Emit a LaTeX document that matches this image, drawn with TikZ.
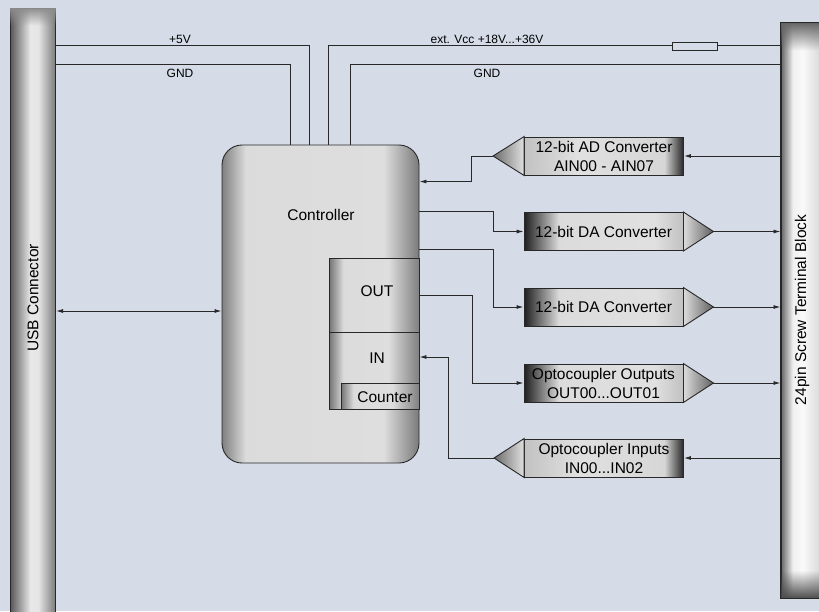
\documentclass[tikz,border=0pt]{standalone}
\usepackage{fontspec}
\setmainfont{Liberation Sans}
\usepackage{xcolor}
\usepackage{tikz}
\usetikzlibrary{arrows.meta,positioning,fadings}

\definecolor{bgblue}{RGB}{213,220,232}
\definecolor{wirecol}{RGB}{40,40,40}

% horizontal shadings (the path is mapped onto 25bp..75bp)
\pgfdeclarehorizontalshading{usbshade}{100bp}{color(0bp)=(black!65); color(25bp)=(black!65); color(47bp)=(black!9); color(56bp)=(black!10); color(75bp)=(black!52); color(100bp)=(black!52)}
\pgfdeclarehorizontalshading{screwshade}{100bp}{color(0bp)=(black!60); color(25bp)=(black!60); color(37bp)=(black!6); color(47bp)=(black!2); color(75bp)=(black!22); color(100bp)=(black!22)}
\pgfdeclarehorizontalshading{ctrlshade}{100bp}{color(0bp)=(black!50); color(25bp)=(black!50); color(31bp)=(black!14); color(66bp)=(black!13); color(75bp)=(black!52); color(100bp)=(black!52)}
\pgfdeclarehorizontalshading{subshade}{100bp}{color(0bp)=(black!55); color(25bp)=(black!55); color(33bp)=(black!14); color(58bp)=(black!13); color(75bp)=(black!50); color(100bp)=(black!50)}
\pgfdeclarehorizontalshading{darkleft}{100bp}{color(0bp)=(black!88); color(25bp)=(black!88); color(36bp)=(black!14); color(66bp)=(black!12); color(75bp)=(black!24); color(100bp)=(black!24)}
\pgfdeclarehorizontalshading{darkright}{100bp}{color(0bp)=(black!24); color(25bp)=(black!24); color(42bp)=(black!12); color(69bp)=(black!16); color(75bp)=(black!85); color(100bp)=(black!85)}

\tikzfading[name=capdown, top color=transparent!0, bottom color=transparent!100]
\tikzfading[name=capup, top color=transparent!100, bottom color=transparent!0]

\begin{document}
\begin{tikzpicture}[
  x=1pt, y=-1pt,
  font=\fontsize{15.5}{19}\selectfont,
  >=Latex,
  wire/.style={
    draw=wirecol,
    line width=0.9pt
  },
  flow/.style={
    wire,
    -{Latex[length=7pt,width=4pt]}
  },
  both/.style={
    wire,
    {Latex[length=7pt,width=4pt]}-{Latex[length=7pt,width=4pt]}
  },
  bar/.style={
    draw=wirecol,
    line width=1pt,
    shade,
    shading=#1,
    inner sep=0pt
  },
  ctrlbox/.style={
    draw=wirecol,
    line width=0.9pt,
    rounded corners=20pt,
    shade,
    shading=ctrlshade,
    minimum width=197pt,
    minimum height=318pt
  },
  subbox/.style={
    draw=wirecol,
    line width=0.9pt,
    shade,
    shading=subshade,
    inner sep=0pt
  },
  conv/.style={
    draw=wirecol,
    line width=0.9pt,
    shade,
    shading=#1,
    minimum width=159pt,
    minimum height=38pt,
    inner sep=0pt,
    align=center
  },
  triL/.style={
    draw=wirecol,
    line width=0.9pt,
    left color=black!58,
    right color=black!12
  },
  triR/.style={
    draw=wirecol,
    line width=0.9pt,
    left color=black!14,
    right color=black!62
  },
  lbl/.style={
    font=\fontsize{12}{14}\selectfont
  },
  fuse/.style={
    draw=wirecol,
    line width=0.9pt,
    fill=bgblue,
    minimum width=45pt,
    minimum height=8pt,
    inner sep=0pt
  }
]

\useasboundingbox (0,0) rectangle (819,611);
\clip (0,0) rectangle (819,611);
\fill[bgblue] (0,0) rectangle (819,611);

%-----------------------------
% Connector bars
%-----------------------------
\node[bar=usbshade, minimum width=45pt, minimum height=612pt] (usb) at (33,314) {};
\fill[black!45, path fading=capdown] (usb.north west) rectangle ([yshift=-18pt]usb.north east);
\node[rotate=90] (usbtxt) at (33,298) {USB Connector};

\node[bar=screwshade, minimum width=49pt, minimum height=575pt] (screw) at (805.5,310.5) {};
\fill[black!60, path fading=capdown] (screw.north west) rectangle ([yshift=-28pt]screw.north east);
\fill[black!70, path fading=capup] ([yshift=28pt]screw.south west) rectangle (screw.south east);
\draw[wire, line width=1pt] (screw.north east) -- (screw.north west) -- (screw.south west) -- (screw.south east);
\node[rotate=90] (screwtxt) at (802,310) {24pin Screw Terminal Block};

%-----------------------------
% Controller
%-----------------------------
\node[ctrlbox] (ctrl) at (320.5,304) {};
\node (ctrltxt) at (321,215) {Controller};

\node[subbox, minimum width=90pt, minimum height=74pt,
  label={[xshift=3pt,yshift=4pt]center:OUT}] (outbox) at (374,295) {};
\node[subbox, minimum width=90pt, minimum height=77pt,
  label={[xshift=3pt,yshift=12.5pt]center:IN}] (inbox) at (374,370.5) {};
\node[subbox, minimum width=78pt, minimum height=26pt,
  label={[xshift=5pt,yshift=-1pt]center:Counter}] (cnt) at (380,396) {};

%-----------------------------
% Power supply lines
%-----------------------------
\draw[wire] ([yshift=-38pt]usb.north east) -| ([xshift=-11.5pt]ctrl.north);
\draw[wire] ([yshift=-57pt]usb.north east) -| ([xshift=-30.5pt]ctrl.north);
\draw[wire] ([yshift=-23pt]screw.north west) -| ([xshift=7.5pt]ctrl.north);
\draw[wire] ([yshift=-42pt]screw.north west) -| ([xshift=29.5pt]ctrl.north);
\node[fuse] (fuse) at (694.5,46) {};

\node[lbl] (l5v)   at (180,39) {+5V};
\node[lbl] (lgnd)  at (180,73) {GND};
\node[lbl] (lvcc)  at (487,39) {ext. Vcc +18V...+36V};
\node[lbl] (lgnd2) at (487,73) {GND};

%-----------------------------
% Converter blocks
%-----------------------------
\node[conv=darkright] (adc)    at (604,156)   {12-bit AD Converter\\AIN00 - AIN07};
\node[conv=darkleft]  (dac1)   at (603.5,231.5) {12-bit DA Converter};
\node[conv=darkleft]  (dac2)   at (603.5,307) {12-bit DA Converter};
\node[conv=darkleft]  (optout) at (603.5,383) {Optocoupler Outputs\\OUT00...OUT01};
\node[conv=darkright] (optin)  at (604,458)   {Optocoupler Inputs\\IN00...IN02};

\coordinate (adtip)     at ([xshift=-31pt]adc.west);
\coordinate (dac1tip)   at ([xshift=30pt]dac1.east);
\coordinate (dac2tip)   at ([xshift=30pt]dac2.east);
\coordinate (optouttip) at ([xshift=30pt]optout.east);
\coordinate (optintip)  at ([xshift=-30pt]optin.west);

\shade[triL] (adc.north west) -- (adtip) -- (adc.south west) -- cycle;
\shade[triR] (dac1.north east) -- (dac1tip) -- (dac1.south east) -- cycle;
\shade[triR] (dac2.north east) -- (dac2tip) -- (dac2.south east) -- cycle;
\shade[triR] (optout.north east) -- (optouttip) -- (optout.south east) -- cycle;
\shade[triL] (optin.north west) -- (optintip) -- (optin.south west) -- cycle;

%-----------------------------
% Signal links
%-----------------------------
\draw[both] ([yshift=-7pt]ctrl.west) -- ([yshift=-7pt]ctrl.west -| usb.east);

\draw[flow] (adtip) -- ++(-22,0) |- ([yshift=-37pt]ctrl.north east);
\draw[flow] ([yshift=-67pt]ctrl.north east) -- ++(74,0) |- (dac1.west);
\draw[flow] ([yshift=-105pt]ctrl.north east) -- ++(74,0) |- (dac2.west);
\draw[flow] (outbox.east) -- ++(53,0) |- (optout.west);
\draw[flow] (optintip) -- ++(-46,0) |- ([yshift=13.5pt]inbox.east);

\draw[flow] (screw.west |- adc.east) -- (adc.east);
\draw[flow] (dac1tip) -- (dac1tip -| screw.west);
\draw[flow] (dac2tip) -- (dac2tip -| screw.west);
\draw[flow] (optouttip) -- (optouttip -| screw.west);
\draw[flow] (screw.west |- optin.east) -- (optin.east);

\end{tikzpicture}
\end{document}
